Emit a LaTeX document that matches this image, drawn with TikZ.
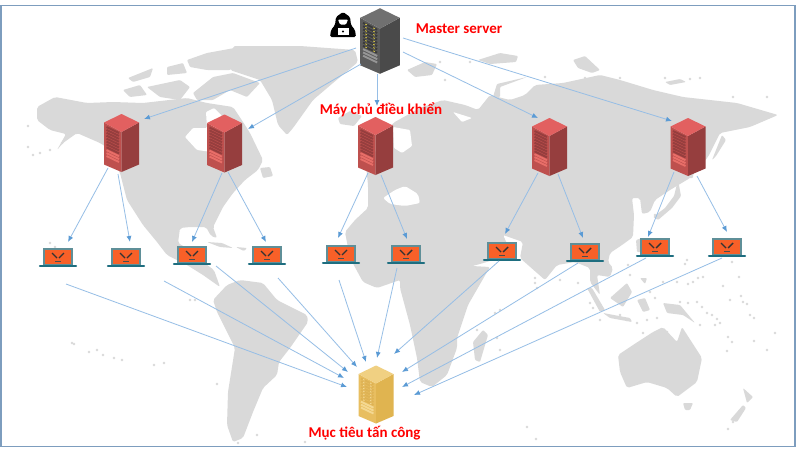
\documentclass[tikz,border=0pt]{standalone}
\usepackage{fontspec}
\setmainfont{Carlito}
\usetikzlibrary{positioning,arrows.meta}
\definecolor{colorframe}  {RGB}{125,157,190}
\definecolor{colorland}   {RGB}{217,217,217}
\definecolor{colorlink}   {RGB}{150,190,230}
\definecolor{colorhead}   {RGB}{91,155,213}
\definecolor{colorscreen} {RGB}{248,96,40}
\definecolor{colorbezel}  {RGB}{95,143,152}
\definecolor{colorbase}   {RGB}{30,110,128}
\definecolor{colorredtop}  {RGB}{226,96,96}
\definecolor{colorredleft} {RGB}{190,80,78}
\definecolor{colorredright}{RGB}{150,62,62}
\definecolor{colorredslot} {RGB}{150,62,62}
\definecolor{colorredlow}  {RGB}{232,110,104}
\definecolor{colorreddot}  {RGB}{150,62,62}
\definecolor{colorgreytop}  {RGB}{112,112,112}
\definecolor{colorgreyleft} {RGB}{92,92,92}
\definecolor{colorgreyright}{RGB}{74,74,74}
\definecolor{colorgreyslot} {RGB}{58,58,58}
\definecolor{colorgreylow}  {RGB}{150,150,150}
\definecolor{colorgreydot}  {RGB}{205,190,70}
\definecolor{coloryellowtop}  {RGB}{240,208,130}
\definecolor{coloryellowleft} {RGB}{232,190,96}
\definecolor{coloryellowright}{RGB}{224,180,80}
\definecolor{coloryellowslot} {RGB}{222,178,84}
\definecolor{coloryellowlow}  {RGB}{244,216,146}
\definecolor{coloryellowdot}  {RGB}{244,216,146}
\tikzset{
    land/.style={fill=colorland,rounded corners=2pt},
    isle/.style={fill=colorland,rounded corners=1pt},
    spot/.style={fill=colorland,radius=1.4},
    link/.style={draw=colorlink,line width=0.8pt,-{Latex[length=6pt,width=5pt,color=colorhead]}},
    redtext/.style={text=red,font=\bfseries\fontsize{15}{17}\selectfont,inner sep=0pt},
    rackpoint/.style={inner sep=0pt,minimum size=0pt},
}
% name, x, y, scale, colour family
\newcommand{\serverrack}[5]{
    \node[rackpoint] (#1) at (#2,#3) {};
    \begin{scope}[shift={(#2,#3)},scale=#4]
        \fill[color#5left] (-17.5,-20.5) -- (0,-11) -- (0,29) -- (-17.5,21.5) -- cycle;
        \fill[color#5right] (17.5,-20.5) -- (0,-11) -- (0,29) -- (17.5,21.5) -- cycle;
        \fill[color#5top] (0,-29) -- (17.5,-20.5) -- (0,-11) -- (-17.5,-20.5) -- cycle;
        \foreach \k in {0,...,7} {
            \draw[color#5slot,line width=1.9pt] (-15,-16+2.9*\k) -- (-2.5,-10+2.9*\k);
            \draw[color#5dot,line width=0.9pt] (-13,-15+2.9*\k) -- (-11.5,-14.3+2.9*\k);
            \draw[color#5dot,line width=0.9pt] (-6,-11.6+2.9*\k) -- (-4.5,-10.9+2.9*\k);
        }
        \foreach \k in {8,9,10}
            \draw[color#5low,line width=1.9pt] (-15,-16+2.9*\k) -- (-2.5,-10+2.9*\k);
    \end{scope}
}
% name, x, y of the laptop base
\newcommand{\laptopicon}[3]{
    \node[rackpoint] (#1) at (#2,#3) {};
    \begin{scope}[shift={(#2,#3)}]
        \draw[colorbezel,fill=colorscreen,line width=1.1pt] (-14,-17) rectangle (14,-1);
        \draw[colorbase,line width=2.1pt,line cap=round] (-18,0) -- (18,0);
        \draw[black!80,line width=1.4pt] (-6,-13) -- (-1,-8);
        \draw[black!80,line width=1.4pt] (6,-13) -- (1,-8);
        \draw[black!70,line width=0.8pt] (-3,-5) -- (3,-5);
    \end{scope}
}
\begin{document}
\begin{tikzpicture}[x=1pt,y=-1pt]
    \useasboundingbox (0,0) rectangle (800,450);
    \fill[white] (0,0) rectangle (800,450);

    % map
    \fill[land] (37,107) -- (55,97) -- (87,103) -- (113,102) -- (143,103) -- (187,98) -- (207,103) -- (233,107) -- (243,122) -- (250,133) -- (263,160) -- (258,170) -- (245,180) -- (233,193) -- (223,207) -- (213,227) -- (217,238) -- (211,236) -- (206,227) -- (190,227) -- (180,228) -- (178,243) -- (190,250) -- (205,248) -- (203,262) -- (214,270) -- (220,287) -- (203,275) -- (187,265) -- (167,255) -- (157,242) -- (143,225) -- (127,200) -- (120,173) -- (108,148) -- (100,143) -- (77,133) -- (63,143) -- (57,150) -- (66,134) -- (50,130) -- (37,120) -- cycle;
    \fill[white,rounded corners=1pt] (185,137) -- (193,128) -- (207,128) -- (206,112) -- (214,108) -- (222,116) -- (216,132) -- (212,152) -- (197,150) -- cycle;
    \fill[land] (213,300) -- (227,285) -- (240,280) -- (263,283) -- (277,300) -- (307,315) -- (308,322) -- (290,348) -- (279,362) -- (277,375) -- (263,388) -- (253,412) -- (243,438) -- (233,442) -- (227,425) -- (228,392) -- (235,348) -- (217,312) -- cycle;
    \fill[land] (233,46) -- (300,46) -- (355,50) -- (358,62) -- (333,83) -- (313,100) -- (293,128) -- (287,135) -- (278,125) -- (272,100) -- (260,80) -- (230,70) -- cycle;
    \fill[isle] (187,60) -- (207,53) -- (240,47) -- (245,60) -- (230,70) -- (207,70) -- (190,67) -- cycle;
    \fill[isle] (193,93) -- (213,77) -- (233,73) -- (260,83) -- (247,97) -- (230,90) -- (213,100) -- (197,100) -- cycle;
    \fill[isle] (147,87) -- (180,80) -- (190,87) -- (180,100) -- (160,97) -- cycle;
    \fill[isle] (123,90) -- (140,85) -- (147,95) -- (130,97) -- cycle;
    \fill[isle] (128,78) -- (153,68) -- (150,77) -- (133,82) -- cycle;
    \fill[isle] (167,67) -- (183,63) -- (187,73) -- (167,75) -- cycle;
    \fill[isle] (338,118) -- (350,111) -- (362,116) -- (354,126) -- (340,124) -- cycle;
    \fill[isle] (207,242) -- (222,243) -- (233,248) -- (220,247) -- cycle;
    \fill[isle] (236,247) -- (247,248) -- (244,251) -- cycle;
    \fill[isle] (260,168) -- (270,167) -- (273,176) -- (263,178) -- cycle;
    % eurasia and africa
    \fill[land] (345,232) -- (355,220) -- (368,208) -- (368,185) -- (366,165) -- (380,145) -- (393,123) -- (420,108) -- (443,100) -- (465,105) -- (478,110) -- (490,95) -- (510,100) -- (525,95) -- (535,85) -- (563,83) -- (600,75) -- (620,80) -- (653,90) -- (683,97) -- (737,103) -- (778,115) -- (750,127) -- (720,133) -- (708,157) -- (690,178) -- (670,190) -- (655,200) -- (650,212) -- (642,214) -- (640,198) -- (632,198) -- (634,215) -- (633,237) -- (622,245) -- (610,253) -- (608,262) -- (613,268) -- (610,277) -- (597,275) -- (600,295) -- (590,282) -- (590,268) -- (575,262) -- (557,265) -- (545,280) -- (520,258) -- (523,242) -- (503,235) -- (510,250) -- (500,258) -- (480,264) -- (472,266) -- (490,267) -- (487,272) -- (468,305) -- (457,338) -- (457,348) -- (447,375) -- (432,387) -- (420,382) -- (417,358) -- (410,325) -- (400,288) -- (400,280) -- (377,288) -- (363,282) -- (350,258) -- cycle;
    \fill[white,rounded corners=2pt] (383,198) -- (395,190) -- (405,186) -- (418,194) -- (420,203) -- (405,206) -- (390,204) -- cycle;
    \fill[white,rounded corners=1pt] (393,127) -- (410,130) -- (412,146) -- (402,153) -- (394,148) -- cycle;
    \fill[white,rounded corners=1pt] (453,112) -- (472,118) -- (462,122) -- cycle;
    \fill[isle] (473,342) -- (483,330) -- (488,335) -- (480,362) -- (475,360) -- cycle;
    % oceania
    \fill[land] (618,355) -- (633,345) -- (653,332) -- (663,327) -- (677,342) -- (682,327) -- (702,358) -- (697,382) -- (677,397) -- (667,388) -- (647,382) -- (627,388) -- (620,372) -- cycle;
    \fill[isle] (683,403) -- (693,403) -- (690,410) -- (685,410) -- cycle;
    \fill[isle] (743,388) -- (753,397) -- (747,403) -- cycle;
    \fill[isle] (743,405) -- (746,408) -- (737,422) -- (730,420) -- cycle;
    \fill[isle] (663,303) -- (680,305) -- (695,323) -- (683,315) -- (667,313) -- cycle;
    \fill[isle] (610,298) -- (627,283) -- (632,292) -- (623,307) -- cycle;
    \fill[isle] (587,288) -- (592,288) -- (605,310) -- (600,312) -- cycle;
    \fill[isle] (603,313) -- (630,318) -- (632,322) -- (610,318) -- cycle;
    \fill[isle] (637,300) -- (645,298) -- (650,310) -- (643,312) -- cycle;
    \fill[isle] (640,278) -- (647,278) -- (645,284) -- cycle;
    \fill[isle] (636,240) -- (642,238) -- (644,252) -- (637,252) -- cycle;
    % japan and the north
    \fill[isle] (653,217) -- (665,208) -- (674,196) -- (678,180) -- (681,196) -- (672,208) -- (658,220) -- cycle;
    \fill[isle] (690,160) -- (695,155) -- (693,178) -- (688,178) -- cycle;
    \fill[isle] (712,160) -- (722,135) -- (726,140) -- (716,156) -- cycle;
    \fill[isle] (478,60) -- (500,53) -- (518,56) -- (516,62) -- (490,64) -- cycle;
    \fill[isle] (407,70) -- (425,62) -- (437,64) -- (432,75) -- (415,77) -- cycle;
    \fill[isle] (573,60) -- (585,56) -- (600,70) -- (592,73) -- (578,68) -- cycle;
    \fill[isle] (493,97) -- (497,84) -- (527,77) -- (500,87) -- (500,97) -- cycle;
    \fill[isle] (665,82) -- (680,79) -- (686,82) -- (670,85) -- cycle;
    \foreach \px/\py in {72/343,74/344,89/352,97/350,103/355,114/358,122/360,154/365,164/363,217/384,190/300,195/300,50/243,55/247,257/435,305/442,238/443,732/262,739/277,723/286,741/296,747/304,743/302,730/300,750/315,754/318,775/333,728/337,732/342,754/341,767/350,727/351,527/427,536/439,728/429,733/422,687/260,685/264,630/275,703/277,698/278,693/282,688/284,677/282,663/282,650/292,655/298,680/302,688/303,697/302,702/307,707/313,712/315,717/319,720/323,715/325,700/325,667/332,643/333,535/278,535/283,537/288,495/313,500/310,500/350,497/338,477/330,578/283,590/303,593/308,620/315,627/320,637/323,647/320,657/318,28/126,33/155,40/153,50/150,28/147,62/143,78/128,100/140,440/62,470/62,445/80,545/77,585/78,620/78,665/78,690/79,733/97,767/97,700/78,655/215,628/265,600/320,560/280}
        \fill[spot] (\px,\py) circle;

    % frame
    \draw[colorframe,line width=1.5pt] (1,5.5) rectangle (795,446.5);

    % servers
    \serverrack{master}{380}{41}{1.13}{grey}
    \serverrack{srvA}{121.5}{143}{1}{red}
    \serverrack{srvB}{224.5}{143.5}{1}{red}
    \serverrack{srvC}{375.5}{146}{1}{red}
    \serverrack{srvD}{549.5}{147}{1}{red}
    \serverrack{srvE}{688}{147}{1}{red}
    \serverrack{target}{376}{394.5}{1}{yellow}

    % laptops
    \laptopicon{lapA}{58}{266}
    \laptopicon{lapB}{126}{266}
    \laptopicon{lapC}{192}{264}
    \laptopicon{lapD}{267}{264}
    \laptopicon{lapE}{341}{263}
    \laptopicon{lapF}{406}{263}
    \laptopicon{lapG}{502}{260}
    \laptopicon{lapH}{585}{261}
    \laptopicon{lapI}{655}{256}
    \laptopicon{lapJ}{727}{256}

    % hacker
    \fill[black,rounded corners=1.5pt] (330,37) -- (331,30) -- (335,25) -- (336,17) -- (343,12) -- (350,17) -- (351,25) -- (355,30) -- (356,37) -- cycle;
    \fill[white,rounded corners=1pt] (338,19.5) -- (348,19.5) -- (346,24.5) -- (340,24.5) -- cycle;
    \fill[white] (337.5,28) rectangle (348.5,35);
    \fill[black] (343,31.5) circle (1.2);

    % links
    \foreach \from/\fx/\fy/\to/\tx/\ty in {
        master/-24/7/srvA/22.5/-24,
        master/-19/23/srvB/23.5/-14.5,
        master/-3/33/srvC/1.5/-40,
        master/23/11/srvD/-11.5/-29,
        master/23/-3/srvE/-16/-26,
        srvA/-13.5/25/lapA/10/-24,
        srvA/-3.5/31/lapB/4/-24,
        srvB/-2.5/29.5/lapC/0/-22,
        srvB/3.5/28.5/lapD/-1/-22,
        srvC/-7.5/27/lapE/-3/-25,
        srvC/5.5/29/lapF/1/-24,
        srvD/-11.5/26/lapG/3/-26,
        srvD/8.5/27/lapH/-2/-23,
        srvE/-14/25/lapI/-7/-19,
        srvE/9/29/lapJ/0/-24,
        lapA/8/18/target/-29/-7.5,
        lapB/38/15/target/-32/-16.5,
        lapC/24/2/target/-28/-22.5,
        lapD/11/14/target/-19/-27.5,
        lapE/-2/17/target/-10/-32.5,
        lapF/-9/5/target/1/-36.5,
        lapG/-3/1/target/18/-40.5,
        lapH/-7/2/target/26/-22.5,
        lapI/-9/2/target/26/-7.5,
        lapJ/-5/2/target/38/0.5}
        \draw[link] ([shift={(\fx,\fy)}]\from.center) -- ([shift={(\tx,\ty)}]\to.center);

    % labels
    \node[redtext] (lblmaster) at (459,29) {Master server};
    \node[redtext] (lblctrl) at (381,110) {Máy chủ điều khiển};
    \node[redtext] (lbltarget) at (364.5,433) {Mục tiêu tấn công};
\end{tikzpicture}
\end{document}
